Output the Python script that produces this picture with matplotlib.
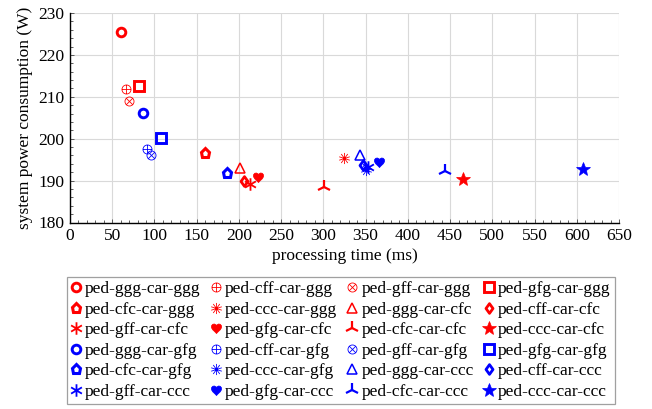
import numpy as np
import matplotlib
matplotlib.use("Agg")
import matplotlib.pyplot as plt
from matplotlib.path import Path

plt.rcParams['font.family'] = ['Liberation Serif', 'DejaVu Serif']
plt.rcParams['font.size'] = 12.5
plt.rcParams['mathtext.fontset'] = 'stix'

# configurations (legend order) and measured results
labels = [
    "ped-ggg-car-ggg", "ped-cff-car-ggg", "ped-gff-car-ggg", "ped-gfg-car-ggg",
    "ped-cfc-car-ggg", "ped-ccc-car-ggg", "ped-ggg-car-cfc", "ped-cff-car-cfc",
    "ped-gff-car-cfc", "ped-gfg-car-cfc", "ped-cfc-car-cfc", "ped-ccc-car-cfc",
    "ped-ggg-car-gfg", "ped-cff-car-gfg", "ped-gff-car-gfg", "ped-gfg-car-gfg",
    "ped-cfc-car-gfg", "ped-ccc-car-gfg", "ped-ggg-car-ccc", "ped-cff-car-ccc",
    "ped-gff-car-ccc", "ped-gfg-car-ccc", "ped-cfc-car-ccc", "ped-ccc-car-ccc",
]
proc_time = [
    60.0, 66.0, 70.2, 82.0,
    159.8, 324.4, 201.7, 206.3,
    213.0, 223.0, 300.7, 465.7,
    86.4, 91.5, 95.9, 107.7,
    186.3, 350.4, 343.4, 347.3,
    353.0, 366.2, 444.0, 607.8,
]
power = [
    225.4, 211.9, 209.0, 212.5,
    196.7, 195.3, 193.1, 189.8,
    189.3, 190.9, 188.5, 190.3,
    206.1, 197.6, 196.1, 200.2,
    191.8, 192.5, 196.0, 193.7,
    193.2, 194.5, 192.4, 192.7,
]

RED = "#ff0000"
BLUE = "#0000ff"


# custom marker shapes
def compound(*parts):
    return Path.make_compound_path(*parts)


def seg(a, b):
    return Path([a, b], [Path.MOVETO, Path.LINETO])


c45 = np.cos(np.pi / 4)
oplus = compound(Path.unit_circle(), seg((-1, 0), (1, 0)), seg((0, -1), (0, 1)))
otimes = compound(Path.unit_circle(), seg((-c45, -c45), (c45, c45)),
                  seg((-c45, c45), (c45, -c45)))


def spokes(n, offset):
    parts = []
    for k in range(n):
        a = offset + 2 * np.pi * k / n
        parts.append(seg((0, 0), (np.cos(a), np.sin(a))))
    return compound(*parts)


sun = spokes(10, np.pi / 2)
asterisk6 = spokes(6, np.pi / 2)

diamond = Path([(0, 1), (0.72, 0), (0, -1), (-0.72, 0), (0, 1)],
               [Path.MOVETO, Path.LINETO, Path.LINETO, Path.LINETO,
                Path.CLOSEPOLY])

heart = Path(
    [(0, -1.0),
     (-0.25, -0.65), (-1.0, -0.25), (-1.0, 0.35),
     (-1.0, 0.95), (-0.25, 1.1), (0, 0.55),
     (0.25, 1.1), (1.0, 0.95), (1.0, 0.35),
     (1.0, -0.25), (0.25, -0.65), (0, -1.0),
     (0, -1.0)],
    [Path.MOVETO,
     Path.CURVE4, Path.CURVE4, Path.CURVE4,
     Path.CURVE4, Path.CURVE4, Path.CURVE4,
     Path.CURVE4, Path.CURVE4, Path.CURVE4,
     Path.CURVE4, Path.CURVE4, Path.CURVE4,
     Path.CLOSEPOLY])

# style per position within a colour group: marker, size, edge width, filled
styles = [
    ("o", 6.2, 2.1, False),
    (oplus, 6.5, 0.6, False),
    (otimes, 6.5, 0.6, False),
    ("s", 6.8, 2.1, False),
    ("p", 6.8, 2.2, False),
    (sun, 8.0, 0.6, False),
    ("^", 7.5, 1.1, False),
    (diamond, 7.0, 2.0, False),
    (asterisk6, 9.0, 1.3, False),
    (heart, 8.0, 0.5, True),
    ("2", 10.0, 1.6, False),
    ("*", 10.0, 0.5, True),
]

fig = plt.figure(figsize=(6.52, 4.09), dpi=100)
ax = fig.add_axes([70 / 652, 1 - 222.5 / 409, 549 / 652, 209.5 / 409])

handles = []
for i, lab in enumerate(labels):
    color = RED if i < 12 else BLUE
    mk, ms, mew, filled = styles[i % 12]
    h, = ax.plot([proc_time[i]], [power[i]], linestyle="none", marker=mk,
                 markersize=ms, markeredgewidth=mew, color=color,
                 markerfacecolor=color if filled else "none",
                 markeredgecolor=color, label=lab, clip_on=False, zorder=3)
    handles.append(h)

ax.set_xlim(0, 650)
ax.set_ylim(180, 230)
ax.set_xticks(np.arange(0, 651, 50))
ax.set_yticks(np.arange(180, 231, 10))
ax.set_xticks(np.arange(0, 651, 10), minor=True)
ax.set_yticks(np.arange(180, 231, 2), minor=True)
ax.grid(True, which="major", color="#d9d9d9", linewidth=0.8, zorder=0)
ax.set_axisbelow(True)
ax.tick_params(which="both", direction="in", color="#444444", width=0.6)
ax.tick_params(which="major", length=3.0, pad=4)
ax.tick_params(which="minor", length=2.0)
ax.tick_params(axis="both", top=False, right=False)
for s in ("top", "right"):
    ax.spines[s].set_visible(False)
for s in ("left", "bottom"):
    ax.spines[s].set_linewidth(1.0)

ax.set_xlabel("processing time (ms)", labelpad=3)
ax.set_ylabel("system power consumption (W)", labelpad=4)

# legend filled row by row (matplotlib fills column by column)
ncol, nrow = 4, 6
order = [r * ncol + c for c in range(ncol) for r in range(nrow)]
leg = fig.legend([handles[k] for k in order], [labels[k] for k in order],
                 ncol=ncol, loc="upper center",
                 bbox_to_anchor=(341 / 652, 1 - 277 / 409),
                 frameon=True, fancybox=False, edgecolor="#888888",
                 handlelength=0.55, handletextpad=0.25, columnspacing=0.6,
                 labelspacing=0.25, borderpad=0.25, borderaxespad=0.0)
leg.get_frame().set_linewidth(0.9)

fig.savefig("out.png", dpi=100)
